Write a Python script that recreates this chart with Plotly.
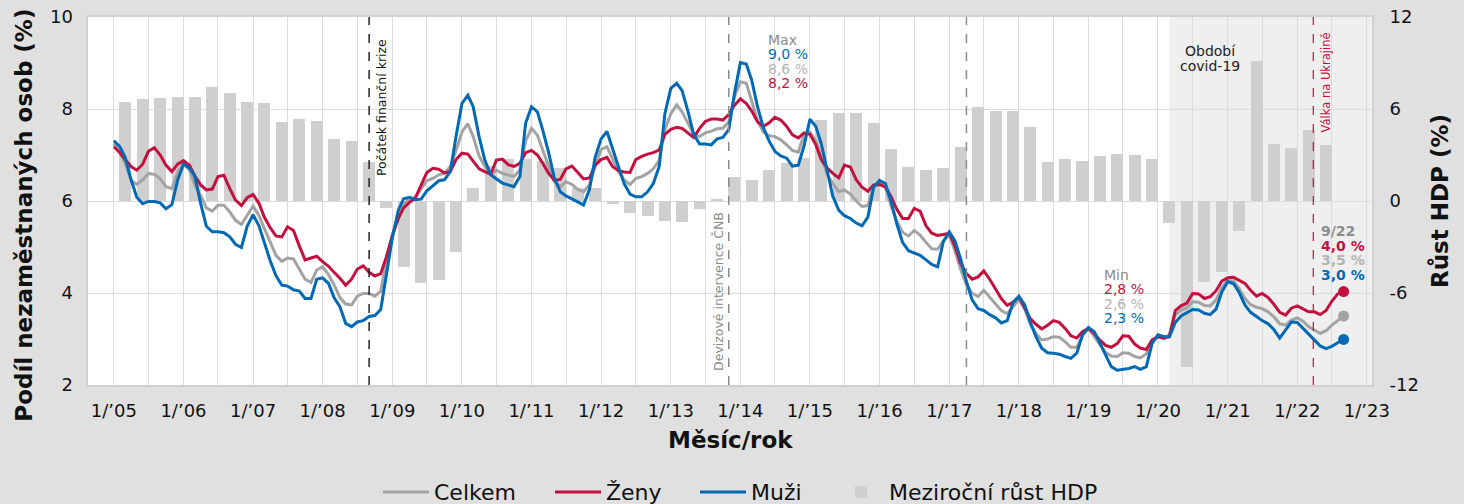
import pandas as pd
import plotly.graph_objects as go

# ---------------- data ----------------
start_month = "2005-01-01"
end_month = "2022-09-01"

celkem = [
    7.25, 7.05, 6.82, 6.45, 6.36, 6.46, 6.60, 6.58, 6.48, 6.31, 6.27, 6.62,
    6.82, 6.68, 6.35, 6.12, 5.85, 5.78, 5.91, 5.91, 5.76, 5.58, 5.49, 5.70,
    5.89, 5.68, 5.40, 5.08, 4.82, 4.69, 4.76, 4.74, 4.50, 4.30, 4.23, 4.50,
    4.57, 4.40, 4.18, 3.90, 3.76, 3.74, 3.93, 3.99, 3.99, 3.93, 4.04, 4.72,
    5.25, 5.70, 5.93, 6.04, 6.08, 6.25, 6.44, 6.49, 6.57, 6.60, 6.75, 7.10,
    7.50, 7.68, 7.40, 6.98, 6.75, 6.58, 6.67, 6.60, 6.57, 6.53, 6.68, 7.30,
    7.58, 7.43, 7.11, 6.75, 6.42, 6.31, 6.42, 6.36, 6.25, 6.20, 6.35, 6.75,
    7.12, 7.18, 6.90, 6.64, 6.46, 6.36, 6.49, 6.53, 6.60, 6.70, 6.88, 7.55,
    7.90, 8.09, 7.94, 7.70, 7.45, 7.40, 7.48, 7.52, 7.57, 7.58, 7.72, 8.27,
    8.59, 8.56, 8.20, 7.75, 7.50, 7.42, 7.40, 7.33, 7.22, 7.10, 7.06, 7.45,
    7.50, 7.30, 6.95, 6.58, 6.38, 6.20, 6.24, 6.15, 6.00, 5.88, 5.90, 6.30,
    6.40, 6.31, 5.90, 5.56, 5.32, 5.24, 5.36, 5.26, 5.10, 4.96, 4.95, 5.13,
    5.26, 4.90, 4.52, 4.18, 4.00, 3.92, 4.06, 3.92, 3.76, 3.62, 3.55, 3.70,
    3.86, 3.65, 3.33, 3.12, 2.98, 3.00, 3.05, 3.04, 2.94, 2.82, 2.82, 3.07,
    3.23, 3.05, 2.88, 2.71, 2.63, 2.62, 2.70, 2.69, 2.62, 2.59, 2.68, 2.94,
    3.05, 3.00, 3.10, 3.52, 3.63, 3.68, 3.81, 3.80, 3.73, 3.72, 3.85, 4.12,
    4.27, 4.26, 4.10, 3.88, 3.75, 3.69, 3.66, 3.59, 3.48, 3.33, 3.30, 3.41,
    3.46, 3.38, 3.27, 3.19, 3.12, 3.18, 3.30, 3.40, 3.50,
]

zeny = [
    7.18, 7.05, 6.90, 6.75, 6.67, 6.80, 7.08, 7.16, 7.00, 6.78, 6.64, 6.80,
    6.88, 6.78, 6.55, 6.35, 6.24, 6.26, 6.53, 6.56, 6.27, 6.02, 5.90, 6.07,
    6.14, 5.95, 5.65, 5.42, 5.24, 5.22, 5.44, 5.36, 5.02, 4.72, 4.76, 4.80,
    4.68, 4.58, 4.45, 4.32, 4.17, 4.30, 4.52, 4.59, 4.45, 4.37, 4.42, 4.79,
    5.25, 5.62, 5.85, 5.97, 6.06, 6.35, 6.62, 6.71, 6.69, 6.61, 6.64, 6.90,
    7.04, 7.02, 6.88, 6.70, 6.64, 6.58, 6.89, 6.91, 6.79, 6.75, 6.82, 7.05,
    7.10, 7.00, 6.82, 6.60, 6.45, 6.47, 6.70, 6.76, 6.62, 6.48, 6.50, 6.78,
    6.90, 6.95, 6.75, 6.66, 6.63, 6.62, 6.90, 6.97, 7.02, 7.05, 7.11, 7.45,
    7.56, 7.60, 7.58, 7.48, 7.38, 7.58, 7.73, 7.78, 7.78, 7.76, 7.88, 8.08,
    8.22, 8.12, 7.96, 7.72, 7.62, 7.70, 7.82, 7.76, 7.62, 7.44, 7.37, 7.48,
    7.45, 7.22, 6.90, 6.72, 6.60, 6.50, 6.78, 6.74, 6.46, 6.30, 6.21, 6.35,
    6.36, 6.30, 6.10, 5.82, 5.62, 5.62, 5.84, 5.78, 5.46, 5.30, 5.25, 5.27,
    5.30, 5.01, 4.65, 4.42, 4.30, 4.35, 4.48, 4.30, 4.10, 3.88, 3.73, 3.80,
    3.92, 3.67, 3.45, 3.32, 3.22, 3.30, 3.40, 3.36, 3.23, 3.07, 3.02, 3.16,
    3.23, 3.12, 2.98, 2.86, 2.82, 2.90, 3.07, 3.06, 2.89, 2.80, 2.77, 2.98,
    3.05, 3.02, 3.05, 3.62, 3.72, 3.78, 3.99, 3.98, 3.88, 3.92, 4.05, 4.26,
    4.33, 4.34, 4.28, 4.21, 4.06, 3.93, 3.99, 3.90, 3.75, 3.58, 3.52, 3.67,
    3.72, 3.65, 3.59, 3.59, 3.53, 3.62, 3.82, 3.98, 4.03,
]

muzi = [
    7.31, 7.18, 6.95, 6.46, 6.08, 5.94, 5.99, 5.99, 5.96, 5.83, 5.92, 6.45,
    6.80, 6.72, 6.55, 5.95, 5.45, 5.33, 5.33, 5.31, 5.22, 5.06, 4.99, 5.45,
    5.70, 5.46, 5.10, 4.70, 4.38, 4.17, 4.15, 4.07, 4.04, 3.88, 3.88, 4.30,
    4.33, 4.21, 3.90, 3.70, 3.34, 3.27, 3.37, 3.40, 3.49, 3.51, 3.64, 4.43,
    5.20, 5.80, 6.05, 6.08, 6.03, 6.04, 6.22, 6.33, 6.44, 6.46, 6.64, 7.40,
    8.12, 8.30, 8.05, 7.40, 6.89, 6.57, 6.49, 6.39, 6.35, 6.31, 6.53, 7.69,
    8.05, 7.94, 7.54, 7.05, 6.50, 6.20, 6.11, 6.05, 5.98, 5.91, 6.25, 6.95,
    7.35, 7.51, 7.12, 6.75, 6.38, 6.15, 6.09, 6.09, 6.20, 6.38, 6.75, 7.90,
    8.45, 8.56, 8.40, 7.95, 7.45, 7.24, 7.24, 7.22, 7.35, 7.38, 7.55, 8.34,
    9.01, 8.98, 8.63, 8.05, 7.60, 7.30, 7.08, 6.98, 6.93, 6.76, 6.78, 7.20,
    7.78, 7.62, 7.25, 6.65, 6.10, 5.80, 5.68, 5.62, 5.52, 5.46, 5.65, 6.30,
    6.45, 6.38, 6.00, 5.50, 5.10, 4.92, 4.87, 4.82, 4.72, 4.62, 4.57, 5.12,
    5.33, 5.12, 4.75, 4.25, 3.85, 3.66, 3.62, 3.53, 3.46, 3.35, 3.40, 3.78,
    3.93, 3.74, 3.38, 3.05, 2.80, 2.70, 2.69, 2.67, 2.62, 2.58, 2.69, 3.09,
    3.25, 3.16, 2.92, 2.65, 2.40, 2.32, 2.34, 2.36, 2.40, 2.34, 2.40, 2.90,
    3.09, 3.05, 3.05, 3.36, 3.50, 3.58, 3.64, 3.63, 3.56, 3.53, 3.65, 4.02,
    4.25, 4.20, 4.02, 3.74, 3.58, 3.49, 3.40, 3.33, 3.20, 3.02, 3.20, 3.37,
    3.36, 3.23, 3.11, 2.98, 2.85, 2.79, 2.84, 2.92, 2.99,
]

quarter_start = "2005Q1"
quarter_end = "2022Q2"
hdp = [
    6.43, 6.63, 6.70, 6.76,
    6.76, 7.41, 7.02, 6.43,
    6.37, 5.13, 5.33, 5.20,
    4.02, 3.89, 2.52, -0.48,
    -4.33, -5.37, -5.15, -3.30,
    0.87, 2.28, 2.74, 2.74,
    2.60, 2.13, 0.83, 0.87,
    -0.20, -0.76, -0.96, -1.28,
    -1.39, -0.54, 0.07, 1.59,
    1.37, 2.02, 2.46, 2.78,
    5.28, 5.71, 5.71, 5.07,
    3.37, 2.24, 2.00, 2.17,
    3.50, 6.11, 5.87, 5.87,
    4.80, 2.54, 2.74, 2.61,
    2.93, 3.07, 3.00, 2.74,
    -1.46, -10.80, -5.26, -4.66,
    -1.94, 9.13, 3.71, 3.45,
    4.63, 3.65,
]

year_first, year_last = 2005, 2023
left_ticks = [2, 4, 6, 8, 10]
right_ticks = [-12, -6, 0, 6, 12]
right_ticktext = ["-12", "-6", "0", "6", "12"]

# ---------------- styles ----------------
FONT = "DejaVu Sans"
C_GRAY = "#a3a3a3"
C_RED = "#c4103f"
C_BLUE = "#0069b4"
C_BAR = "#cfcfcf"
C_TXT_GRAY = "#8c8c8c"
C_TXT_LIGHT = "#b4b4b4"
PAPER = "#e0e0e0"
COVID = "#efefef"
GRID = "#dcdcdc"

months = pd.date_range(start_month, end_month, freq="MS")
quarters = pd.period_range(quarter_start, quarter_end, freq="Q")
bar_x = [q.start_time + pd.DateOffset(months=2) for q in quarters]
bar_width = 63 * 24 * 3600 * 1000

tickvals, ticktext = [], []
for y in range(year_first, year_last + 1):
    tickvals.append(f"{y}-01-01")
    ticktext.append(f"1/’{str(y)[2:]}")
    if y < year_last:
        tickvals.append(f"{y}-07-01")
        ticktext.append("")

x_range = ["2004-08-18", "2023-01-28"]

fig = go.Figure()

fig.add_trace(go.Bar(
    x=bar_x, y=hdp, width=bar_width, name="Meziroční růst HDP",
    marker=dict(color=C_BAR, line=dict(width=0)), yaxis="y", legendrank=4,
    legendwidth=218, hoverinfo="skip",
))

for name, vals, col, rank, lw in [("Celkem", celkem, C_GRAY, 1, 111),
                                  ("Ženy", zeny, C_RED, 2, 84),
                                  ("Muži", muzi, C_BLUE, 3, 77)]:
    fig.add_trace(go.Scatter(
        x=months, y=vals, mode="lines", name=name, yaxis="y2",
        line=dict(color=col, width=3), legendrank=rank, legendwidth=lw,
    ))
for vals, col in [(celkem, C_GRAY), (zeny, C_RED), (muzi, C_BLUE)]:
    fig.add_trace(go.Scatter(
        x=[months[-1]], y=[vals[-1]], mode="markers", yaxis="y2",
        marker=dict(color=col, size=11), showlegend=False,
    ))

def vline(x, color, width):
    return dict(type="line", xref="x", yref="paper", x0=x, x1=x, y0=0, y1=1,
                line=dict(color=color, width=width, dash="dash"), layer="above")

def box(x0, x1, y0, y1, color):
    return dict(type="rect", xref="x", yref="paper", x0=x0, x1=x1, y0=y0, y1=y1,
                fillcolor=color, line=dict(width=0), layer="between")

shapes = [
    dict(type="rect", xref="x", yref="paper", x0="2020-03-01", x1=x_range[1],
         y0=0, y1=1, fillcolor=COVID, line=dict(width=0), layer="below"),
    box("2014-05-08", "2014-12-12", 0.80, 0.96, "white"),
    box("2019-03-01", "2019-10-10", 0.16, 0.32, "white"),
    box("2022-04-18", x_range[1], 0.283, 0.44, COVID),
    box("2020-04-25", "2021-03-25", 0.829, 1.0, COVID),
    box("2013-09-10", "2013-10-20", 0.03, 0.48, "white"),
    vline("2008-09-01", "#222222", 1.5),
    vline("2013-11-01", "#8a8a8a", 1.5),
    vline("2017-04-01", "#8a8a8a", 1.5),
    vline("2022-03-26", C_RED, 1.2),
]

ann = []
def A(text, x, y, xref="x", yref="paper", size=14, color="#222", xanchor="center",
      yanchor="middle", angle=0, xshift=0, yshift=0, bold=False):
    t = f"<b>{text}</b>" if bold else text
    ann.append(dict(text=t, x=x, y=y, xref=xref, yref=yref, showarrow=False,
                    font=dict(family=FONT, size=size, color=color), xanchor=xanchor,
                    yanchor=yanchor, textangle=angle, xshift=xshift, yshift=yshift))

A("Počátek finanční krize", "2008-09-01", 0.753, size=12.5, color="#111", angle=-90, xshift=13)
A("Devizové intervence ČNB", "2013-11-01", 0.255, size=12.5, color="#8a8a8a", angle=-90,
  xshift=-11)
A("Válka na Ukrajině", "2022-03-26", 0.823, size=11.5, color=C_RED, angle=-90, xshift=13)
A("Období", "2020-10-01", 0.907, size=14, color="#222")
A("covid-19", "2020-10-01", 0.866, size=14, color="#222")

for txt, col, yy in [("Max", C_TXT_GRAY, 0.9375), ("9,0 %", C_BLUE, 0.899),
                     ("8,6 %", C_TXT_LIGHT, 0.860), ("8,2 %", C_RED, 0.821)]:
    A(txt, "2014-05-16", yy, size=14, color=col, xanchor="left")
for txt, col, yy in [("Min", C_TXT_GRAY, 0.2989), ("2,8 %", C_RED, 0.2601),
                     ("2,6 %", C_TXT_LIGHT, 0.2212), ("2,3 %", C_BLUE, 0.1821)]:
    A(txt, "2019-03-15", yy, size=14, color=col, xanchor="left")
for txt, col, yy in [("9/22", C_TXT_GRAY, 0.419), ("4,0 %", C_RED, 0.379),
                     ("3,5 %", C_TXT_LIGHT, 0.340), ("3,0 %", C_BLUE, 0.300)]:
    A(txt, "2022-04-25", yy, size=14, color=col, xanchor="left", bold=True)

# axis titles
A("Podíl nezaměstnaných osob (%)", 0, 0.46, xref="paper", size=23, color="#111",
  angle=-90, xshift=-64, bold=True)
A("Růst HDP (%)", 1, 0.5, xref="paper", size=23, color="#111", angle=-90,
  xshift=68, bold=True)
A("Měsíc/rok", 0.5, 0, xref="paper", size=23, color="#111", yshift=-55, bold=True)

fig.update_layout(
    width=1464, height=504,
    margin=dict(l=88, r=92, t=17, b=119, autoexpand=False),
    paper_bgcolor=PAPER, plot_bgcolor="white",
    font=dict(family=FONT, size=18, color="#111"),
    showlegend=True,
    legend=dict(orientation="h", x=(383 - 88 - 5) / 1284, xanchor="left", y=-0.291,
                yanchor="middle", font=dict(size=22, color="#111"),
                bgcolor="rgba(0,0,0,0)", traceorder="normal", itemwidth=46),
    bargap=0,
    xaxis=dict(type="date", range=x_range, tickvals=tickvals, ticktext=ticktext,
               showgrid=True, gridcolor=GRID, gridwidth=1, zeroline=False,
               showline=True, linecolor="#d0d0d0", linewidth=2, mirror=True,
               ticks="", ticklabelstandoff=8, tickfont=dict(size=18), automargin=False),
    yaxis=dict(range=[-12, 12], side="right", tickvals=right_ticks, ticktext=right_ticktext,
               showgrid=True, gridcolor=GRID, gridwidth=1, zeroline=False,
               showline=True, linecolor="#d0d0d0", linewidth=2, mirror=True,
               ticks="", ticklabelstandoff=12, tickfont=dict(size=18), automargin=False),
    yaxis2=dict(range=[2, 10], side="left", overlaying="y", tickvals=left_ticks,
                showgrid=False, zeroline=False, ticks="", ticklabelstandoff=14,
                tickfont=dict(size=18), automargin=False),
    shapes=shapes, annotations=ann,
)

fig.write_html(
    "out.html",
    config={"displayModeBar": False},
    post_script="document.body.style.margin='0';document.body.style.overflow='hidden';",
)
